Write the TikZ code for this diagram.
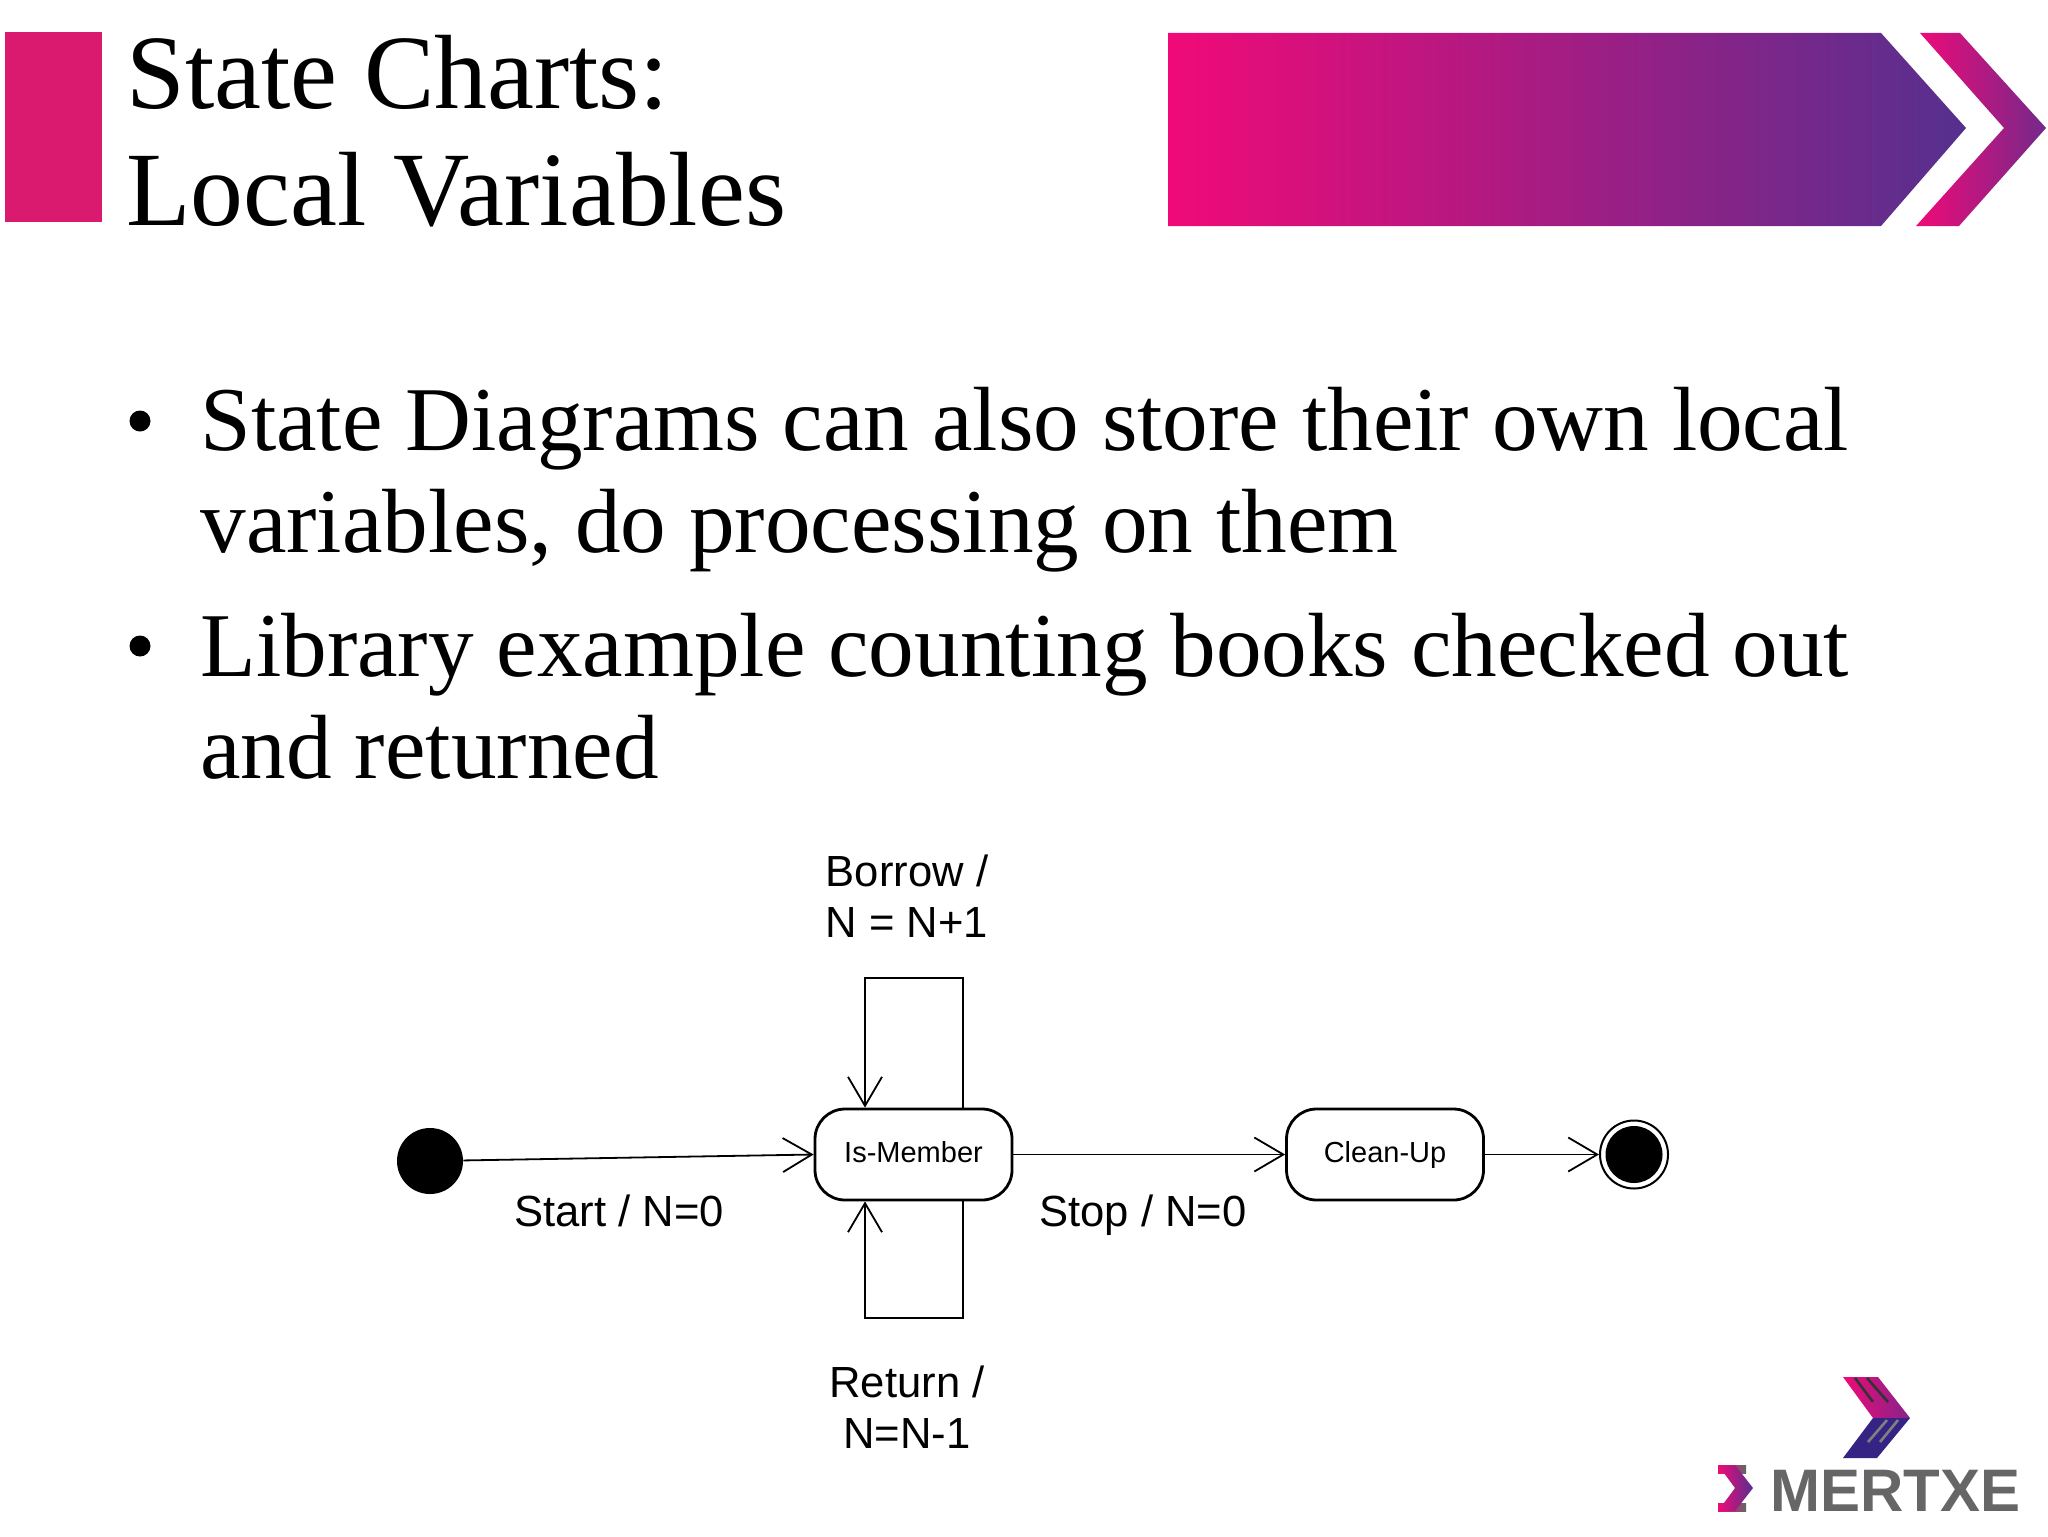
\documentclass[tikz,border=0pt]{standalone}
\usepackage{fontspec}
\setmainfont{Liberation Serif}
\setsansfont{Liberation Sans}
\usetikzlibrary{shapes}
\usetikzlibrary{positioning}
\usetikzlibrary{arrows.meta}
\definecolor{mypink}{HTML}{F00A78}
\definecolor{myrose}{HTML}{DA1A6E}
\definecolor{mypurple}{HTML}{55308F}
\definecolor{myblue}{HTML}{352483}
\definecolor{mygray}{HTML}{666666}
\tikzset{
    titletext/.style = {anchor=base west,align=left,inner sep=0pt,font=\fontsize{52.8}{58.5}\selectfont},
    bodytext/.style = {anchor=base west,align=left,inner sep=0pt,font=\fontsize{45.6}{51}\selectfont},
    dotnode/.style = {circle,fill=black,inner sep=0pt,minimum size=10.5pt},
    statenode/.style = {rectangle,rounded corners=15pt,draw=black,line width=1.4pt,fill=white,inner sep=0pt,minimum width=98.5pt,minimum height=45.5pt,text height=10.5pt,text depth=3pt,font=\sffamily\fontsize{14.5}{17}\selectfont},
    startnode/.style = {circle,fill=black,inner sep=0pt,minimum size=33pt},
    endnode/.style = {circle,draw=black,line width=1pt,fill=white,inner sep=0pt,minimum size=34pt},
    endnodei/.style = {circle,fill=black,inner sep=0pt,minimum size=28.5pt},
    edgelabel/.style = {align=center,inner sep=0pt,font=\sffamily\fontsize{21.8}{25.6}\selectfont},
    edgen/.style = {-{Straight Barb[length=14.5pt,width=17pt,line width=0.9pt]},line width=0.9pt},
}

\begin{document}
\begin{tikzpicture}[x=0.5pt,y=-0.5pt]
\fill[white] (0,0) rectangle (2048,1536);
\useasboundingbox (0,0) rectangle (2048,1536);
% header
\fill[myrose] (5,32) rectangle (102,222);
\shade[left color=mypink,right color=mypurple] (1168,33) -- (1881,33) -- (1966,128) -- (1881,226) -- (1168,226) -- cycle;
\shade[left color=mypink,right color=mypurple!80!mypink] (1920,33) -- (1960,33) -- (2046,128) -- (1959,226) -- (1916,226) -- (2004,128) -- cycle;
\node[titletext] at (126,225) (title) {State Charts:\\Local Variables};
%
\node[dotnode] at (140,421) (b1) {};
\node[dotnode] at (140,646) (b2) {};
\node[bodytext] at (200,552) (t1) {State Diagrams can also store their own local\\variables, do processing on them};
\node[bodytext] at (200,778) (t2) {Library example counting books checked out\\and returned};
%
\node[startnode] at (430,1161) (s) {};
\node[statenode] at (913.5,1154.5) (m) {Is-Member};
\node[statenode] at (1385,1154.5) (c) {Clean-Up};
\node[endnode] at (1634,1154.5) (e) {};
\node[endnodei] at (1634,1154.5) (ei) {};
\coordinate (lt) at (865,978);
\coordinate (rt) at (963,978);
\coordinate (lb) at (865,1318);
\coordinate (rb) at (963,1318);
%
\draw[edgen] (s) -- (m.west);
\draw[edgen] (m) -- (c);
\draw[edgen] (c) -- (e);
\draw[edgen] (rt |- m.north) -- (rt) -- (lt) -- (lt |- m.north);
\draw[edgen] (rb |- m.south) -- (rb) -- (lb) -- (lb |- m.south);
%
\node[edgelabel] at (907,896) (borrow) {Borrow /\\N = N+1};
\node[edgelabel] at (907,1407) (return) {Return /\\N=N-1};
\node[edgelabel,anchor=base] at (619,1226) (start) {Start / N=0};
\node[edgelabel,anchor=base] at (1143,1226) (stop) {Stop / N=0};
% logo
\shade[left color=mypink,right color=mypurple!70!mypink] (1843,1377) -- (1878,1377) -- (1910,1418) -- (1873,1418) -- cycle;
\fill[myblue] (1873,1418) -- (1910,1418) -- (1877,1458) -- (1843,1458) -- cycle;
\draw[black!80,line width=1.3pt] (1855,1378) -- (1873,1402) (1867,1378) -- (1888,1402);
\draw[gray,line width=1.3pt] (1887,1420) -- (1868,1442) (1898,1420) -- (1880,1442);
\shade[left color=mypink,right color=mygray] (1718,1465) rectangle (1746,1473);
\shade[left color=mypink,right color=mygray] (1718,1503) rectangle (1746,1511);
\shade[left color=mypink,right color=mypurple] (1718,1465) -- (1735,1465) -- (1753,1488) -- (1735,1511) -- (1718,1511) -- (1735,1488) -- cycle;
\node[anchor=base west,inner sep=0pt,text=mygray,font=\sffamily\bfseries\fontsize{30}{30}\selectfont] at (1770,1511) (logo) {MERTXE};
\end{tikzpicture}
\end{document}
